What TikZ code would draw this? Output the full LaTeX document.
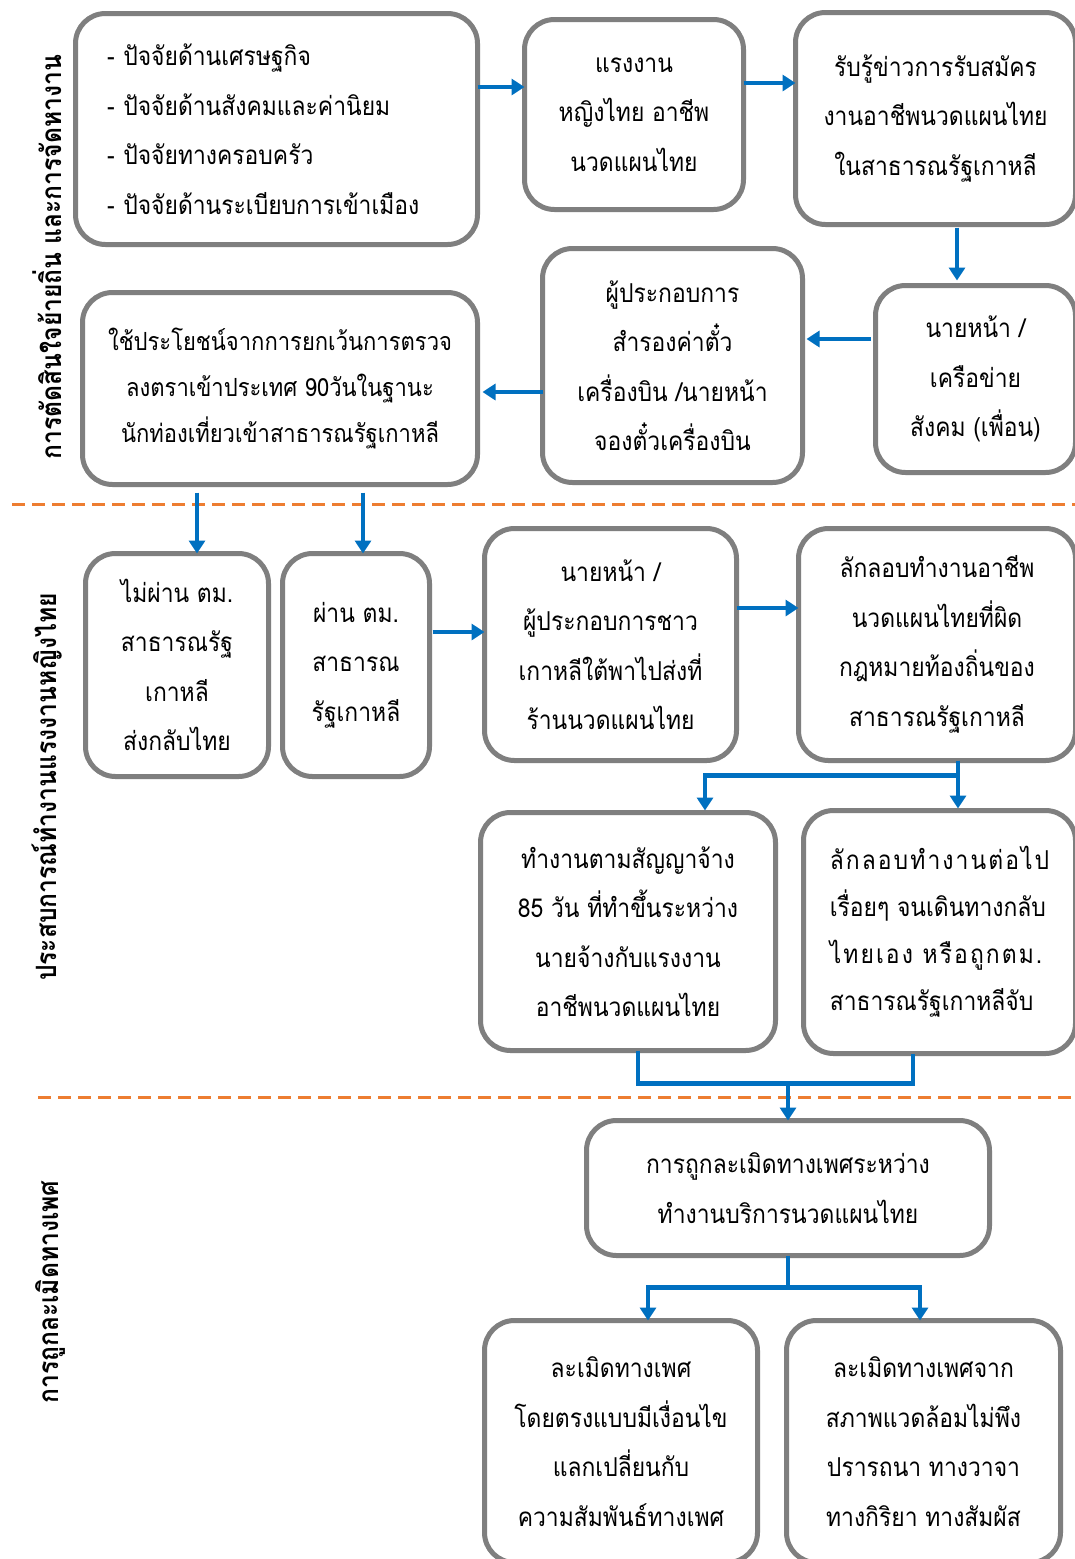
\documentclass[tikz,border=0pt]{standalone}
\usepackage{fontspec}
\setmainfont{Liberation Sans}
\newfontfamily\thaifont[Script=Thai,FakeStretch=0.88]{Loma}
\newfontfamily\thaispread[Script=Thai,FakeStretch=0.88,LetterSpace=8]{Loma}
\usetikzlibrary{arrows.meta}
\definecolor{boxgray}{HTML}{7F7F7F}
\definecolor{arrblue}{HTML}{0070C0}
\definecolor{dashorange}{HTML}{ED7D31}
\begin{document}
\begin{tikzpicture}[x=1pt,y=-1pt,
 box/.style={draw=boxgray, line width=5pt, rounded corners=30pt, fill=white, inner sep=0pt, outer sep=0pt, align=center, font=\thaifont\fontsize{26}{49.5}\selectfont},
 arr/.style={draw=arrblue, line width=4.5pt, -{Triangle[length=13pt,width=16pt]}},
 conn/.style={draw=arrblue, line width=4.5pt},
 sidelabel/.style={rotate=90, font=\thaifont\bfseries\fontsize{28}{30}\selectfont},
 sepline/.style={draw=dashorange, line width=3pt, dash pattern=on 13pt off 7pt}]
\useasboundingbox (0,0) rectangle (1075,1559);
\fill[white] (0,0) rectangle (1075,1559);
% separators
\draw[sepline] (12,504) -- (1075,504);
\draw[sepline] (38,1097) -- (1075,1097);
% side labels
\node[sidelabel] (s1) at (47,257) {การตัดสินใจย้ายถิ่น และการจัดหางาน};
\node[sidelabel] (s2) at (47,787) {ประสบการณ์ทำงานแรงงานหญิงไทย};
\node[sidelabel] (s3) at (50,1292) {การถูกละเมิดทางเพศ};
% boxes
\node[box, minimum width=402pt, minimum height=231pt, text width=339pt, align=left] (A) at (276.5,129) {- ปัจจัยด้านเศรษฐกิจ\\- ปัจจัยด้านสังคมและค่านิยม\\- ปัจจัยทางครอบครัว\\- ปัจจัยด้านระเบียบการเข้าเมือง};
\node[box, minimum width=219pt, minimum height=190pt] (B) at (634,114.5) {แรงงาน\\หญิงไทย อาชีพ\\นวดแผนไทย};
\node[box, minimum width=280pt, minimum height=212pt] (C) at (935.5,118.5) {รับรู้ข่าวการรับสมัคร\\งานอาชีพนวดแผนไทย\\ในสาธารณรัฐเกาหลี};
\node[box, minimum width=200pt, minimum height=187pt] (D) at (975.5,379) {นายหน้า /\\เครือข่าย\\สังคม (เพื่อน)};
\node[box, minimum width=260pt, minimum height=234pt] (E) at (672.5,365.5) {ผู้ประกอบการ\\สำรองค่าตั๋ว\\เครื่องบิน /นายหน้า\\จองตั๋วเครื่องบิน};
\node[box, minimum width=395pt, minimum height=192pt, font=\thaifont\fontsize{25}{46}\selectfont] (F) at (280,388.5) {ใช้ประโยชน์จากการยกเว้นการตรวจ\\ลงตราเข้าประเทศ 90วันในฐานะ\\นักท่องเที่ยวเข้าสาธารณรัฐเกาหลี};
\node[box, minimum width=183pt, minimum height=223pt] (G) at (177,665) {ไม่ผ่าน ตม.\\สาธารณรัฐ\\เกาหลี\\ส่งกลับไทย};
\node[box, minimum width=147pt, minimum height=223pt] (H) at (356,665) {ผ่าน ตม.\\สาธารณ\\รัฐเกาหลี};
\node[box, minimum width=252pt, minimum height=232pt] (I) at (610.5,644.5) {นายหน้า /\\ผู้ประกอบการชาว\\เกาหลีใต้พาไปส่งที่\\ร้านนวดแผนไทย};
\node[box, minimum width=277pt, minimum height=232pt] (J) at (937,644.5) {ลักลอบทำงานอาชีพ\\นวดแผนไทยที่ผิด\\กฎหมายท้องถิ่นของ\\สาธารณรัฐเกาหลี};
\node[box, minimum width=295pt, minimum height=238pt] (K) at (628,931.5) {ทำงานตามสัญญาจ้าง\\85 วัน ที่ทำขึ้นระหว่าง\\นายจ้างกับแรงงาน\\อาชีพนวดแผนไทย};
\node[box, minimum width=272pt, minimum height=243pt, align=left, font=\thaifont\fontsize{26}{47}\selectfont] (L) at (939.5,932) {{\thaispread ลักลอบทำงานต่อไป}\\เรื่อยๆ จนเดินทางกลับ\\{\thaispread ไทยเอง หรือถูกตม.}\\สาธารณรัฐเกาหลีจับ};
\node[box, minimum width=403pt, minimum height=135pt] (M) at (788,1188) {การถูกละเมิดทางเพศระหว่าง\\ทำงานบริการนวดแผนไทย};
\node[box, minimum width=273pt, minimum height=242pt] (N) at (621,1441.5) {ละเมิดทางเพศ\\โดยตรงแบบมีเงื่อนไข\\แลกเปลี่ยนกับ\\ความสัมพันธ์ทางเพศ};
\node[box, minimum width=274pt, minimum height=242pt] (O) at (923.5,1441.5) {ละเมิดทางเพศจาก\\สภาพแวดล้อมไม่พึง\\ปรารถนา ทางวาจา\\ทางกิริยา ทางสัมผัส};
% connectors
\coordinate (ab) at ([yshift=42pt]A.east);
\draw[arr] (ab) -- (ab -| B.west);
\coordinate (bc) at ([yshift=31.5pt]B.east);
\draw[arr] (bc) -- (bc -| C.west);
\coordinate (cd) at ([xshift=21.5pt]C.south);
\draw[arr, shorten <=3pt, shorten >=5pt] (cd) -- (cd |- D.north);
\coordinate (de) at ([yshift=40pt]D.west);
\draw[arr, shorten <=5pt, shorten >=4pt] (de) -- (de -| E.east);
\coordinate (ef) at ([yshift=-26.5pt]E.west);
\draw[arr, shorten >=5pt] (ef) -- (ef -| F.east);
\coordinate (fg) at ([xshift=20pt]G.north);
\draw[arr, shorten <=8pt] (fg |- F.south) -- (fg);
\coordinate (fh) at ([xshift=7pt]H.north);
\draw[arr, shorten <=8pt] (fh |- F.south) -- (fh);
\coordinate (hi) at ([yshift=33pt]H.east);
\draw[arr, shorten <=3pt] (hi) -- (hi -| I.west);
\coordinate (ij) at ([yshift=36.5pt]I.east);
\draw[arr] (ij) -- (ij -| J.west);
\coordinate (jx) at ([xshift=21pt]J.south);
\draw[arr, shorten >=2pt] (jx) -- ++(0,15) -| ([xshift=77pt]K.north);
\draw[arr, shorten >=2pt] (jx) -- (jx |- L.north);
\coordinate (kb) at ([xshift=10pt]K.south);
\coordinate (lb) at ([xshift=-26.5pt]L.south);
\draw[conn] (kb) -- ++(0,33) coordinate (kl) -| (lb);
\draw[arr] (kl -| M.north) -- (M.north);
\draw[conn] (M.south) -- ++(0,32) coordinate (mb);
\draw[arr] (mb) -| ([xshift=27pt]N.north);
\draw[arr] (mb) -| ([xshift=-3.5pt]O.north);
\end{tikzpicture}
\end{document}
